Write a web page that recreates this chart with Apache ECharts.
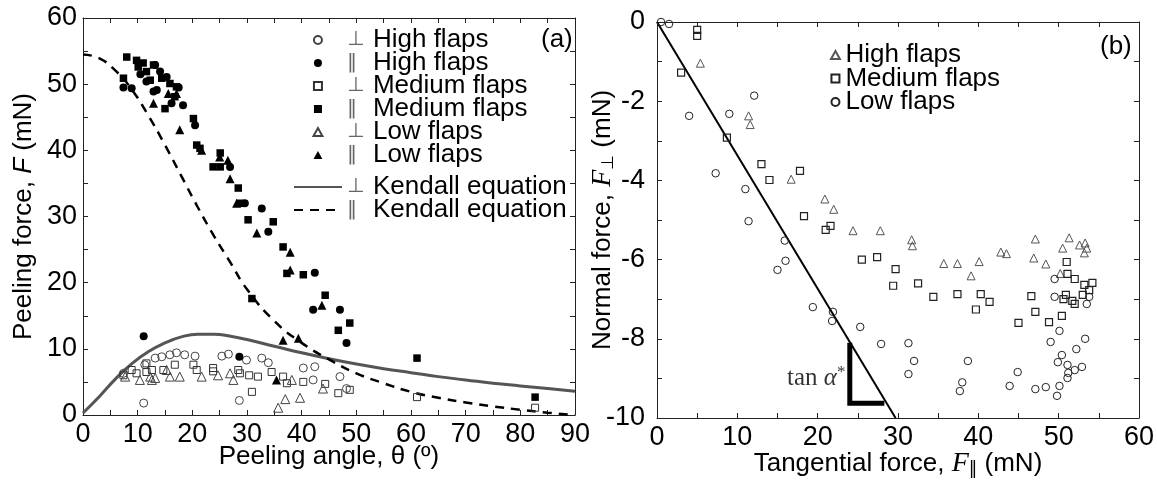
<!DOCTYPE html>
<html><head><meta charset="utf-8">
<script src="https://cdn.jsdelivr.net/npm/echarts@6/dist/echarts.min.js"></script>
<style>html,body{margin:0;padding:0;background:#fff}#c{width:1157px;height:485px}</style>
</head><body><div id="c"></div>
<script>
const FONT = 'Liberation Sans, Arial, sans-serif';
const SERIF = 'Liberation Serif, DejaVu Serif, serif';

// ---------- Panel (a): peeling force vs angle ----------
const kendallAngles = [0,3,6,9,12,15,18,21,24,27,30,35,40,45,50,55,60,65,70,75,80,85,90];
const kendallPerp   = [0.3,2.8,5.5,7.8,9.6,10.9,11.8,12.2,12.2,11.9,11.4,10.4,9.4,8.5,7.7,7.0,6.4,5.8,5.3,4.8,4.4,4.0,3.6];
const kendallPar    = [54.5,53.9,52.0,49.1,45.2,40.8,36.1,31.4,27.0,23.0,19.0,14.2,10.9,8.4,6.3,4.8,3.5,2.6,1.9,1.3,0.8,0.35,0];

const highPerpA = [[7.4,6.3],[11.3,7.6],[13.2,8.6],[14.4,8.8],[15.9,9.1],[17.1,9.4],[18.6,9.1],[20.5,8.9],[25.4,8.9],[26.6,9.2],[29.9,8.3],[32.7,8.6],[33.9,7.9],[40.3,7.1],[42.4,7.3],[42.1,5.3],[47.0,5.8],[48.2,4.0],[11.1,1.8],[28.6,2.2]];
const highParA  = [[7.4,49.5],[8.9,49.4],[10.5,51.5],[11.6,50.4],[12.9,48.9],[13.2,52.9],[13.5,49.1],[14.1,51.9],[15.3,51.1],[16.2,47.1],[17.5,49.5],[18.3,46.8],[20.5,43.8],[26.9,37.5],[29.6,32.0],[32.7,31.2],[33.9,27.7],[42.4,21.5],[42.1,15.9],[47.0,15.9],[48.2,10.9],[11.1,11.9],[28.6,8.8]];
const medPerpA  = [[7.4,6.0],[8.9,6.8],[9.8,6.3],[11.6,6.5],[11.6,7.8],[12.6,6.8],[14.7,6.8],[16.8,7.6],[20.2,7.6],[20.8,6.8],[23.8,7.1],[23.8,6.6],[28.4,6.8],[28.7,6.3],[30.4,6.0],[32.0,5.8],[30.9,3.5],[34.5,6.5],[36.6,5.8],[37.3,4.8],[40.3,5.0],[44.3,4.7],[46.7,3.3],[48.8,3.8],[61.1,2.7],[82.7,1.1]];
const medParA   = [[8.0,54.1],[7.4,50.9],[9.8,53.6],[11.0,53.2],[10.1,52.6],[11.6,51.9],[12.3,50.6],[12.9,52.9],[14.4,50.9],[15.9,50.1],[17.1,49.6],[15.0,46.3],[16.8,48.1],[20.2,44.8],[20.8,40.8],[21.4,40.3],[25.1,39.6],[23.8,37.5],[25.1,37.5],[28.4,34.3],[28.7,32.0],[30.2,29.5],[34.8,29.2],[36.6,25.4],[37.3,21.4],[40.3,21.2],[44.3,18.1],[30.9,17.6],[48.8,13.9],[46.7,12.8],[61.1,8.6],[82.7,2.7]];
const lowPerpA  = [[7.7,5.8],[10.4,5.3],[12.3,5.8],[12.6,5.3],[13.2,5.6],[15.3,6.8],[15.9,5.8],[17.7,5.8],[21.7,5.8],[24.7,6.0],[26.9,6.3],[27.5,5.3],[35.7,1.1],[37.0,2.4],[39.7,2.6],[38.2,5.3],[43.9,4.0]];
const lowParA   = [[12.9,47.1],[15.6,48.6],[17.1,48.6],[17.7,43.1],[21.7,40.0],[25.0,39.0],[26.5,38.5],[26.9,35.7],[28.1,32.0],[31.8,27.5],[37.9,24.6],[37.9,21.9],[43.7,16.6],[36.6,11.3],[39.4,11.6],[35.4,5.3]];

// ---------- Panel (b): normal vs tangential force ----------
const highB = [[5.4,-1.04],[11.4,-2.37],[11.6,-2.59],[16.7,-3.97],[20.9,-4.47],[22.0,-4.73],[24.4,-5.27],[27.8,-5.27],[31.7,-5.5],[31.8,-5.65],[35.7,-6.1],[37.4,-6.1],[40.1,-6.05],[39.1,-6.41],[42.8,-5.81],[43.5,-5.85],[47.1,-5.48],[46.9,-5.96],[48.4,-6.11],[51.3,-5.45],[50.5,-5.71],[52.6,-5.63],[53.3,-5.58],[53.5,-5.71],[53.2,-5.83],[50.2,-6.35]];
const medB  = [[5.0,-0.2],[5.0,-0.35],[3.0,-1.28],[8.7,-2.92],[13.0,-3.59],[14.0,-3.99],[17.8,-3.76],[18.3,-4.9],[21.6,-5.15],[21.0,-5.25],[25.5,-6.0],[27.4,-5.94],[29.7,-6.24],[29.4,-6.66],[32.5,-6.6],[34.4,-6.94],[37.4,-6.87],[40.3,-6.87],[41.4,-7.07],[39.7,-7.26],[46.6,-6.92],[47.1,-7.32],[45.0,-7.6],[48.8,-7.58],[50.4,-7.42],[51.0,-6.06],[51.1,-6.36],[52.0,-6.49],[53.2,-6.64],[54.2,-6.59],[53.8,-6.77],[50.9,-6.89],[51.7,-7.04],[53.0,-6.89],[52.0,-7.12],[50.6,-7.0]];
const lowB  = [[0.5,0],[1.5,-0.05],[4.0,-2.37],[9.0,-2.32],[12.1,-1.86],[7.3,-3.82],[11.0,-4.22],[11.4,-5.03],[15.9,-5.52],[16.0,-6.03],[15.0,-6.26],[19.4,-7.2],[21.9,-7.32],[21.8,-7.55],[25.3,-7.7],[27.9,-8.13],[31.3,-8.11],[32.0,-8.56],[31.3,-8.89],[38.7,-8.56],[38.0,-9.1],[37.7,-9.32],[43.9,-9.19],[44.9,-8.84],[47.1,-9.27],[48.4,-9.22],[50.1,-9.19],[49.8,-9.44],[50.1,-7.8],[49.0,-8.08],[53.3,-8.0],[52.2,-8.26],[50.4,-8.41],[49.9,-8.59],[51.1,-8.66],[52.0,-8.79],[52.9,-8.71],[51.2,-8.86],[51.1,-8.99],[49.5,-6.49],[49.5,-6.94],[53.5,-7.12],[53.8,-6.94]];
const fitLineB    = [[0,0],[29.7,-10]];
const slopeMarkB  = [[24,-8.1],[24,-9.63],[28.3,-9.63]];
const slopeLabelB = [[23.7,-9.0]];

// axis ranges / ticks
const axisA = {xMin:0, xMax:90, xStep:10, yMin:0, yMax:60, yStep:10};
const axisB = {xMin:0, xMax:60, xStep:10, yMin:-10, yMax:0, yStep:2};

const RECT_ICON = 'path://M0,0L10,0L10,10L0,10Z';
const TRI_ICON  = 'path://M5,0L10,9L0,9Z';

const chart = echarts.init(document.getElementById('c'));
const kendallPerpData = kendallAngles.map((a,i)=>[a,kendallPerp[i]]);
const kendallParData  = kendallAngles.map((a,i)=>[a,kendallPar[i]]);

function axisCommon(min,max,step,pos,gi,labels,labelMargin){
  return {
    type:'value', gridIndex:gi, position:pos, min:min, max:max, interval:step,
    nameMoveOverlap:false,
    axisLine:{show:true, onZero:false, lineStyle:{color:'#222', width:1}},
    axisTick:{show:true, inside:true, length:5, lineStyle:{color:'#222'}},
    minorTick:{show:true, splitNumber:2, length:5, lineStyle:{color:'#222'}},
    splitLine:{show:false}, minorSplitLine:{show:false},
    axisLabel:{show:labels, fontSize:27, color:'#000', fontFamily:FONT, margin:labelMargin}
  };
}
function sc(name, data, xi, yi, symbol, size, fill, stroke, lw){
  return {type:'scatter', name:name, data:data, xAxisIndex:xi, yAxisIndex:yi,
    symbol:symbol, symbolSize:size,
    itemStyle:{color:fill, borderColor:stroke, borderWidth:lw, opacity:1},
    emphasis:{disabled:true}, z:3};
}

const xA = axisCommon(axisA.xMin,axisA.xMax,axisA.xStep,'bottom',0,true,6);
xA.name = 'Peeling angle, θ (º)'; xA.nameLocation='middle'; xA.nameGap=29;
xA.nameTextStyle = {fontSize:26, color:'#000', fontFamily:FONT};
const yA = axisCommon(axisA.yMin,axisA.yMax,axisA.yStep,'left',0,true,6);
yA.name = 'Peeling force, {i|F} (mN)'; yA.nameLocation='middle'; yA.nameGap=46;
yA.nameTextStyle = {fontSize:26, color:'#000', fontFamily:FONT, rich:{i:{fontSize:26, fontStyle:'italic', fontFamily:FONT, color:'#000'}}};
const xB = axisCommon(axisB.xMin,axisB.xMax,axisB.xStep,'bottom',1,true,6);
xB.name = 'Tangential force, {i|F}{sub|‖} (mN)'; xB.nameLocation='middle'; xB.nameGap=31;
xB.nameTextStyle = {fontSize:26, color:'#000', fontFamily:FONT, rich:{
  i:{fontSize:28, fontStyle:'italic', fontFamily:SERIF, color:'#000'},
  sub:{fontSize:17, fontFamily:'DejaVu Sans', color:'#000', padding:[12,0,0,0]}}};
const yB = axisCommon(axisB.yMin,axisB.yMax,axisB.yStep,'left',1,true,12);
yB.name = 'Normal force, {i|F}{sub|⊥} (mN)'; yB.nameLocation='middle'; yB.nameGap=40;
yB.nameTextStyle = {fontSize:26, color:'#000', fontFamily:FONT, rich:{
  i:{fontSize:28, fontStyle:'italic', fontFamily:SERIF, color:'#000'},
  sub:{fontSize:17, fontFamily:'DejaVu Sans', color:'#000', padding:[12,0,0,0]}}};

const legendFmt = n => '{s|'+n[0]+'}{t|'+n.slice(2)+'}';
const legendTextA = {fontSize:26, color:'#000', fontFamily:FONT, lineHeight:22,
  rich:{s:{width:26, align:'left', fontSize:20, color:'#666', fontFamily:'DejaVu Sans', lineHeight:22},
        t:{fontSize:26, color:'#000', fontFamily:FONT, lineHeight:22}}};
const hideDot = {color:'rgba(0,0,0,0)', borderWidth:0};

chart.setOption({
  animation:false,
  backgroundColor:'#fff',
  grid:[
    {left:83, top:18, width:492, height:397},
    {left:657, top:22, width:491, height:396}
  ],
  xAxis:[xA,
    axisCommon(axisA.xMin,axisA.xMax,axisA.xStep,'top',0,false,6),
    xB,
    axisCommon(axisB.xMin,axisB.xMax,axisB.xStep,'top',1,false,6)],
  yAxis:[yA,
    axisCommon(axisA.yMin,axisA.yMax,axisA.yStep,'right',0,false,6),
    yB,
    axisCommon(axisB.yMin,axisB.yMax,axisB.yStep,'right',1,false,6)],
  title:[
    {text:'(a)', left:541, top:27, padding:0, textStyle:{fontSize:26, fontWeight:'normal', color:'#000', fontFamily:FONT}},
    {text:'(b)', left:1100, top:34, padding:0, textStyle:{fontSize:26, fontWeight:'normal', color:'#000', fontFamily:FONT}}
  ],
  legend:[
    {orient:'vertical', left:312.5, top:27, padding:0, itemWidth:48, itemHeight:8, itemGap:-3, selectedMode:false,
     data:[{name:'⊥ High flaps'},{name:'‖ High flaps'},
           {name:'⊥ Medium flaps', icon:RECT_ICON},{name:'‖ Medium flaps', icon:RECT_ICON},
           {name:'⊥ Low flaps', icon:TRI_ICON},{name:'‖ Low flaps', icon:TRI_ICON}],
     formatter:legendFmt, textStyle:legendTextA},
    {orient:'vertical', left:293, top:174, padding:0, itemWidth:48, itemHeight:8, itemGap:-3, selectedMode:false,
     data:[{name:'⊥ Kendall equation', itemStyle:hideDot},{name:'‖ Kendall equation', itemStyle:hideDot}],
     formatter:legendFmt, textStyle:legendTextA},
    {orient:'vertical', left:830, top:42, padding:0, itemWidth:10, itemHeight:8, itemGap:-2.5, selectedMode:false,
     data:[{name:'High flaps', icon:TRI_ICON},{name:'Medium flaps', icon:RECT_ICON},{name:'Low flaps'}],
     textStyle:{fontSize:26, color:'#000', fontFamily:FONT, lineHeight:22}}
  ],
  series:[
    {type:'line', name:'⊥ Kendall equation', data:kendallPerpData, xAxisIndex:0, yAxisIndex:0,
     smooth:true, symbol:'none', lineStyle:{color:'#555', width:3}, itemStyle:{color:'#555'}, z:2},
    {type:'line', name:'‖ Kendall equation', data:kendallParData, xAxisIndex:0, yAxisIndex:0,
     smooth:true, symbol:'none', lineStyle:{color:'#000', width:2.5, type:[9,7]}, itemStyle:{color:'#000'}, z:2},
    sc('⊥ High flaps', highPerpA, 0,0, 'circle', 8, 'rgba(0,0,0,0)', '#444', 1),
    sc('‖ High flaps', highParA, 0,0, 'circle', 8, '#000', '#000', 0),
    sc('⊥ Medium flaps', medPerpA, 0,0, 'rect', 7, 'rgba(0,0,0,0)', '#333', 1),
    sc('‖ Medium flaps', medParA, 0,0, 'rect', 7.5, '#000', '#000', 0),
    sc('⊥ Low flaps', lowPerpA, 0,0, 'triangle', 9, 'rgba(0,0,0,0)', '#444', 1),
    sc('‖ Low flaps', lowParA, 0,0, 'triangle', 9, '#000', '#000', 0),

    {type:'line', name:'fit', data:fitLineB, xAxisIndex:2, yAxisIndex:2, symbol:'none',
     lineStyle:{color:'#000', width:2}, z:2},
    {type:'line', name:'slope', data:slopeMarkB, xAxisIndex:2, yAxisIndex:2, symbol:'none',
     lineStyle:{color:'#000', width:5, cap:'butt', join:'miter'}, z:2},
    sc('High flaps', highB, 2,2, 'triangle', 8, 'rgba(0,0,0,0)', '#555', 1),
    sc('Medium flaps', medB, 2,2, 'rect', 7, 'rgba(0,0,0,0)', '#222', 1.2),
    sc('Low flaps', lowB, 2,2, 'circle', 7.5, 'rgba(0,0,0,0)', '#222', 1),
    {type:'scatter', name:'tanLabel', data:slopeLabelB, xAxisIndex:2, yAxisIndex:2, symbolSize:0,
     label:{show:true, position:'left', distance:2, formatter:'{t|tan }{a|α}{s|*}',
       rich:{t:{fontSize:25, fontFamily:SERIF, color:'#000'},
             a:{fontSize:25, fontFamily:SERIF, fontStyle:'italic', color:'#000'},
             s:{fontSize:17, fontFamily:SERIF, color:'#000', padding:[0,0,12,0]}}}, z:4}
  ]
});
</script>
</body></html>
